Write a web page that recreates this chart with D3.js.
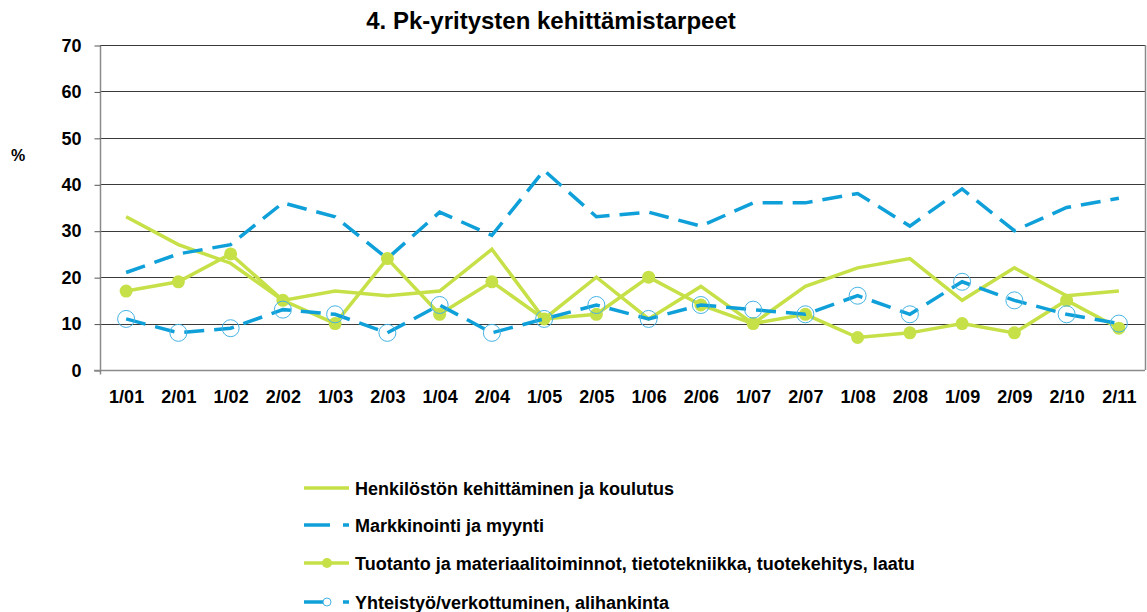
<!DOCTYPE html>
<html>
<head>
<meta charset="utf-8">
<script src="https://cdn.jsdelivr.net/npm/d3@7"></script>
<style>
  body { margin: 0; background: #fff; }
  svg text { font-family: "Liberation Sans", Arial, sans-serif; }
</style>
</head>
<body>
<svg id="chart" width="1147" height="612"></svg>
<script>
// data
const periods = ["1/01","2/01","1/02","2/02","1/03","2/03","1/04","2/04","1/05","2/05",
                 "1/06","2/06","1/07","2/07","1/08","2/08","1/09","2/09","2/10","2/11"]
const henkilosto = [33,27,23,15,17,16,17,26,11,20,11,18,10,18,22,24,15,22,16,17]
const markkinointi = [21,25,27,36,33,24,34,29,43,33,34,31,36,36,38,31,39,30,35,37]
const tuotanto = [17,19,25,15,10,24,12,19,11,12,20,14,10,12,7,8,10,8,15,9]
const yhteistyo = [11,8,9,13,12,8,14,8,11,14,11,14,13,12,16,12,19,15,12,10]
const yTicks = [0,10,20,30,40,50,60,70]
const seriesNames = ["Henkilöstön kehittäminen ja koulutus",
                     "Markkinointi ja myynti",
                     "Tuotanto ja materiaalitoiminnot, tietotekniikka, tuotekehitys, laatu",
                     "Yhteistyö/verkottuminen, alihankinta"]

const green = "#c6e048", blue = "#0fa0d9"
const series = [
  {name: seriesNames[0], values: henkilosto, color: green, dash: null, marker: null},
  {name: seriesNames[1], values: markkinointi, color: blue, dash: "20,10", marker: null},
  {name: seriesNames[2], values: tuotanto, color: green, dash: null, marker: "dot"},
  {name: seriesNames[3], values: yhteistyo, color: blue, dash: "20,10", marker: "ring"}
]

const plotLeft = 100, plotRight = 1145, plotTop = 45, plotBottom = 370
const svg = d3.select("#chart")

let x = d3.scalePoint().domain(periods).range([plotLeft, plotRight]).padding(0.5)
let y = d3.scaleLinear().domain([0, 70]).range([plotBottom, plotTop])

// gridlines
svg.append("g").selectAll("line").data(yTicks.slice(1)).enter().append("line")
  .attr("x1", plotLeft).attr("x2", plotRight)
  .attr("y1", d => Math.round(y(d)) + 0.5).attr("y2", d => Math.round(y(d)) + 0.5)
  .attr("stroke", "#3a3a3a").attr("stroke-width", 1)
// right border
svg.append("line").attr("x1", plotRight + 0.5).attr("x2", plotRight + 0.5).attr("y1", plotTop).attr("y2", plotBottom)
  .attr("stroke", "#8a8a8a").attr("stroke-width", 1.5)

// y axis
let yAxis = d3.axisLeft(y).tickValues(yTicks).tickSize(6).tickPadding(13)
let gy = svg.append("g").attr("transform", `translate(${plotLeft + 0.5},0.5)`).call(yAxis)
gy.select(".domain").attr("stroke", "#8a8a8a").attr("stroke-width", 1.5).attr("d", `M0,${plotTop}V${plotBottom + 4}`)
gy.selectAll(".tick line").attr("stroke", "#555")
gy.selectAll("text").attr("font-size", 18).attr("font-weight", "bold").attr("fill", "#000")

// x axis
let xAxis = d3.axisBottom(x).tickSize(0).tickPadding(20)
let gx = svg.append("g").attr("transform", `translate(0,${plotBottom + 0.5})`).call(xAxis)
gx.select(".domain").attr("stroke", "#8a8a8a").attr("stroke-width", 1.5).attr("d", `M${plotLeft - 6},0H${plotRight}`)
gx.selectAll("text").attr("font-size", 18).attr("font-weight", "bold").attr("fill", "#000")

// lines
let line = d3.line().x((d, i) => x(periods[i])).y(d => y(d))
series.forEach(s => {
  svg.append("path").datum(s.values)
    .attr("d", line).attr("fill", "none")
    .attr("stroke", s.color).attr("stroke-width", 3.5)
    .attr("stroke-dasharray", s.dash)
  if (s.marker === "dot") {
    svg.append("g").selectAll("circle").data(s.values).enter().append("circle")
      .attr("cx", (d, i) => x(periods[i])).attr("cy", d => y(d)).attr("r", 6.5)
      .attr("fill", s.color)
  }
  if (s.marker === "ring") {
    svg.append("g").selectAll("circle").data(s.values).enter().append("circle")
      .attr("cx", (d, i) => x(periods[i])).attr("cy", d => y(d)).attr("r", 8.5)
      .attr("fill", "none").attr("stroke", "#45b3e3").attr("stroke-width", 1)
  }
})

// title and unit
svg.append("text").attr("x", 551).attr("y", 29).attr("text-anchor", "middle")
  .attr("font-size", 24).attr("font-weight", "bold").text("4. Pk-yritysten kehittämistarpeet")
svg.append("text").attr("x", 11).attr("y", 161).attr("font-size", 16).attr("font-weight", "bold").text("%")

// legend
series.forEach((s, i) => {
  let ly = [488, 525, 563, 602][i]
  let g = svg.append("g").attr("transform", `translate(304,${ly})`)
  if (s.dash) {
    g.append("line").attr("x1", 0).attr("x2", 26).attr("y1", 0).attr("y2", 0)
      .attr("stroke", s.color).attr("stroke-width", 3.5)
    g.append("line").attr("x1", 39).attr("x2", 45).attr("y1", 0).attr("y2", 0)
      .attr("stroke", s.color).attr("stroke-width", 3.5)
  } else {
    g.append("line").attr("x1", 0).attr("x2", 45).attr("y1", 0).attr("y2", 0)
      .attr("stroke", s.color).attr("stroke-width", 3.5)
  }
  if (s.marker === "dot") g.append("circle").attr("cx", 23).attr("r", 5).attr("fill", s.color)
  if (s.marker === "ring") g.append("circle").attr("cx", 23).attr("r", 4)
    .attr("fill", "#fff").attr("stroke", "#45b3e3").attr("stroke-width", 1)
  g.append("text").attr("x", 51).attr("y", 7).attr("font-size", 18).attr("font-weight", "bold")
    .text(s.name)
})
</script>
</body>
</html>
